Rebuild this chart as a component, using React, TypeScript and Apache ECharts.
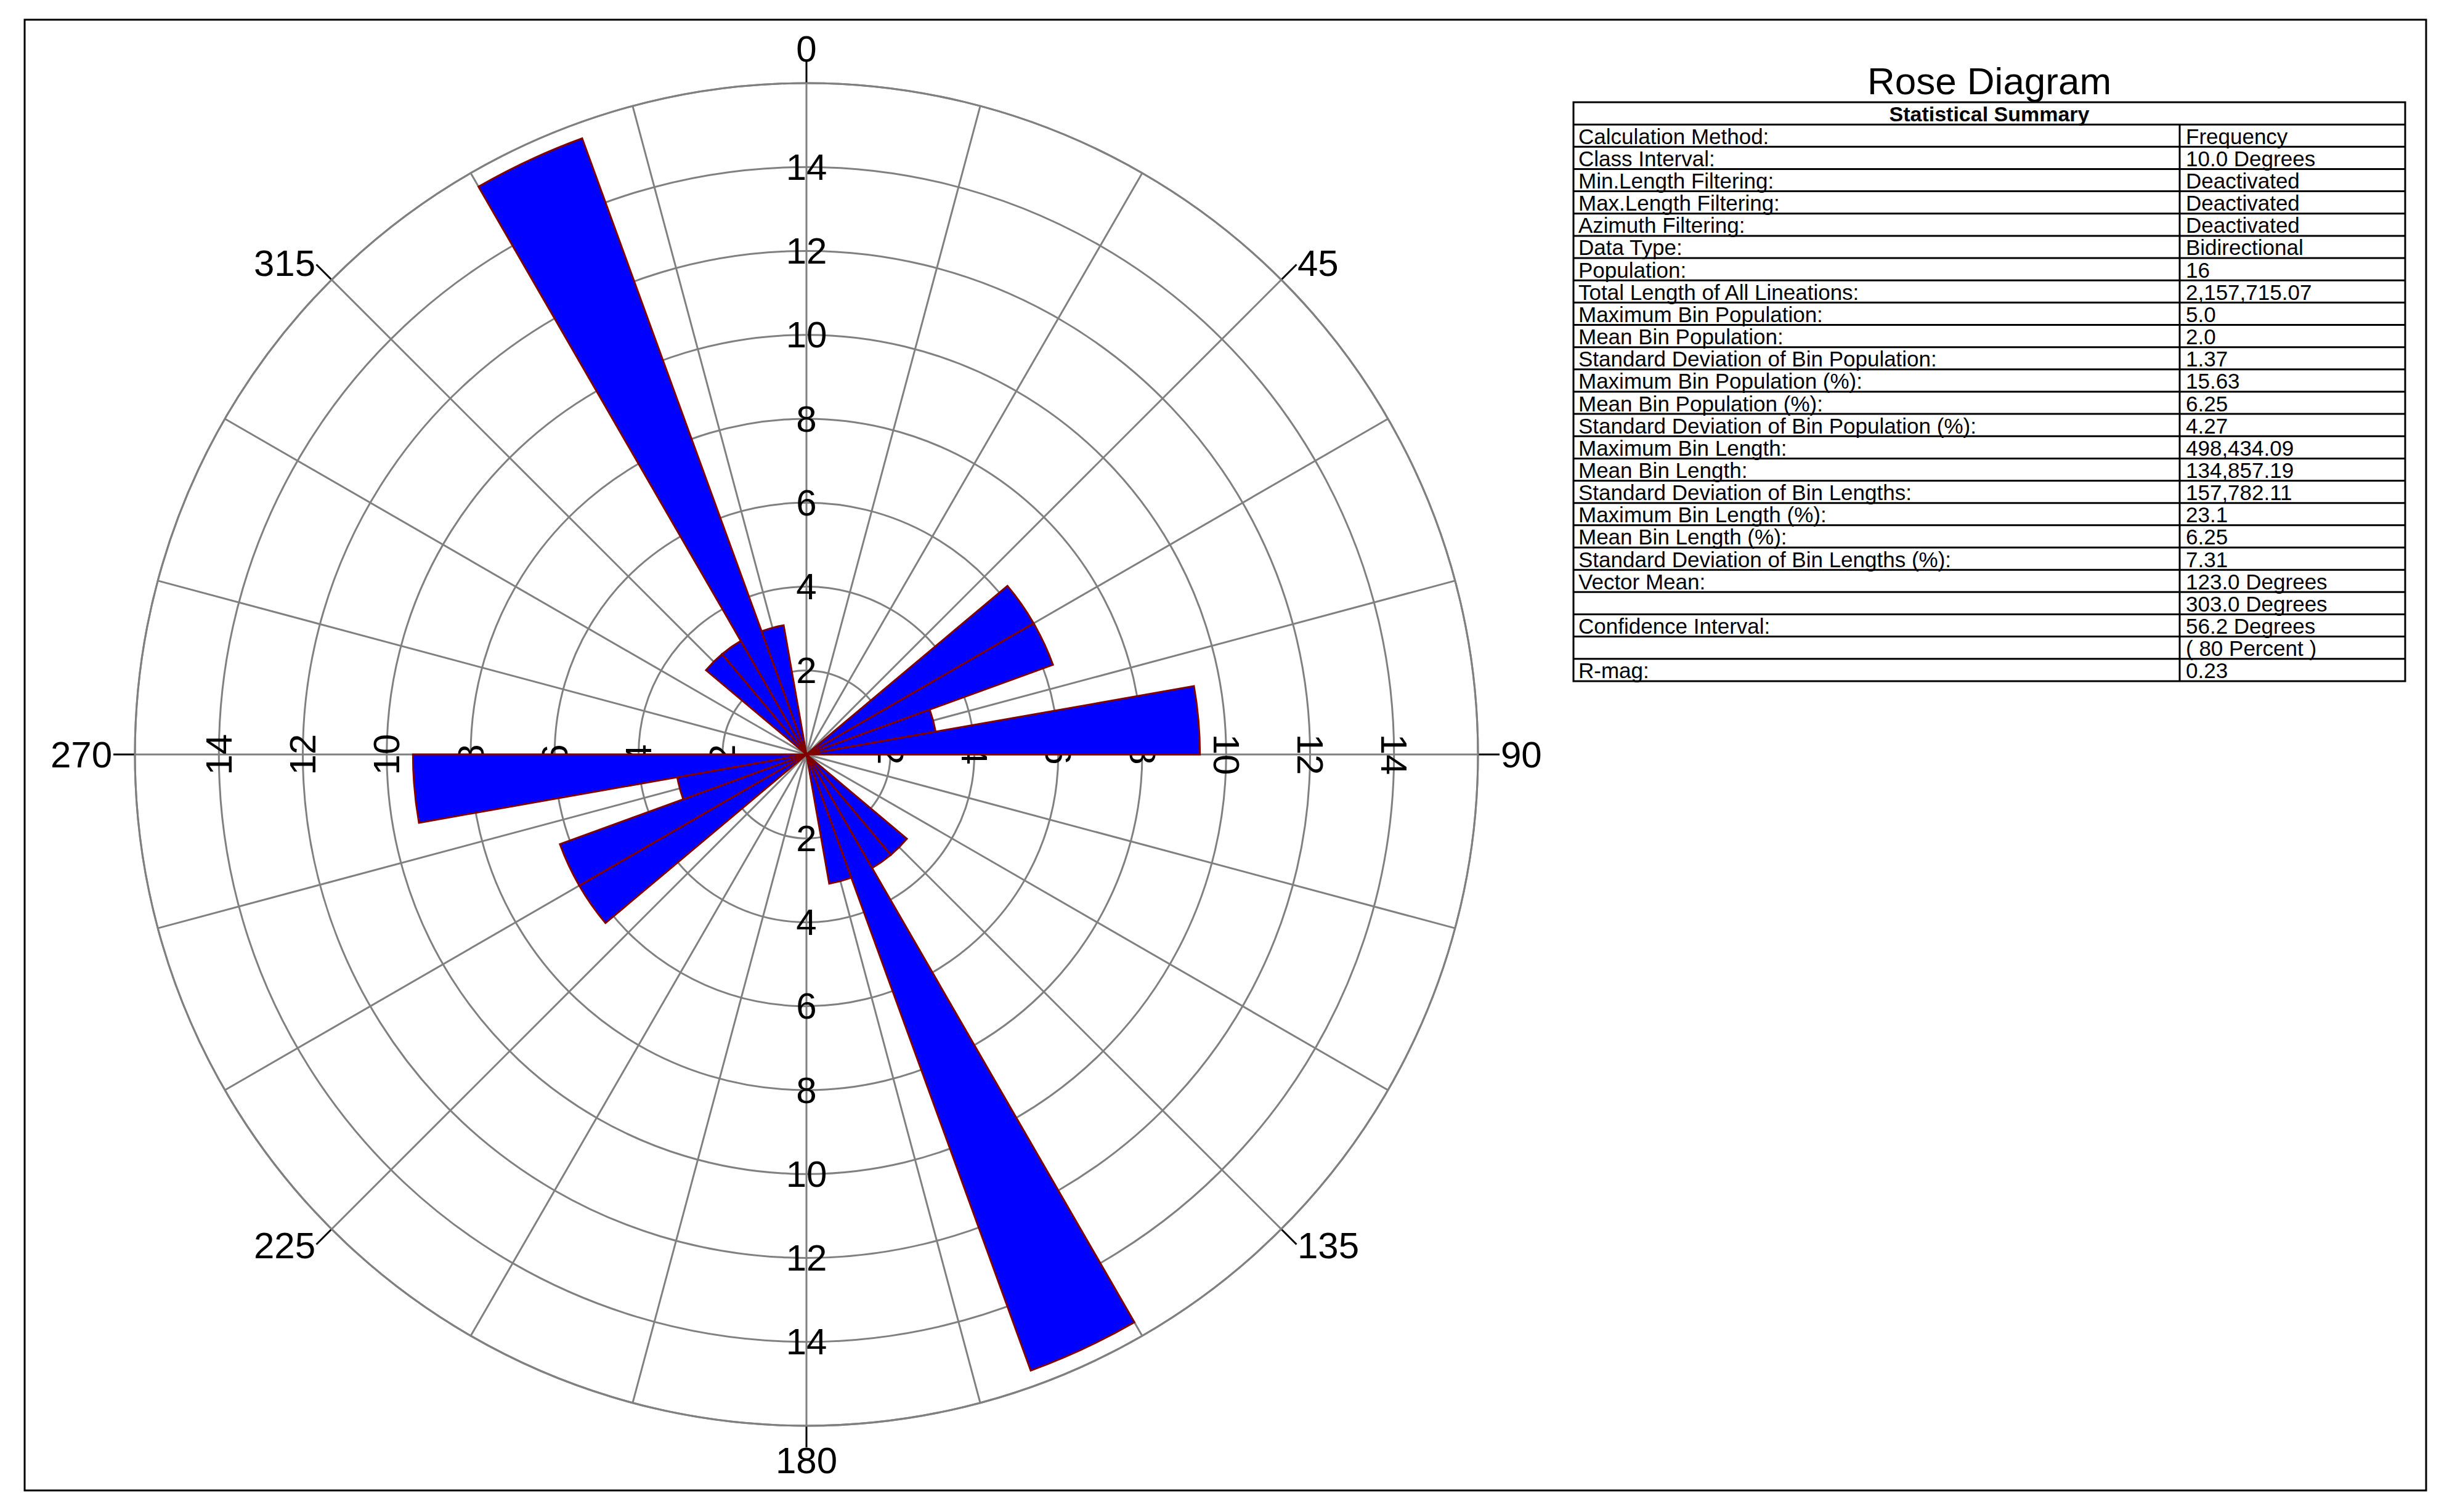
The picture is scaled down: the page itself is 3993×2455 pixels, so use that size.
import React, { useEffect, useRef } from "react";
import * as echarts from "echarts";

// ---- data ----
const BIN_CATEGORIES = [
  "0", "10", "20", "30", "40", "50", "60", "70", "80", "90", "100", "110",
  "120", "130", "140", "150", "160", "170", "180", "190", "200", "210", "220", "230",
  "240", "250", "260", "270", "280", "290", "300", "310", "320", "330", "340", "350",
];
// frequency (%) of each 10-degree bin (bidirectional)
const BIN_PERCENT = [
  null, null, null, null, null, 6.25, 6.25, 3.125, 9.375, null, null, null,
  null, 3.125, 3.125, 15.625, 3.125, null, null, null, null, null, null, 6.25,
  6.25, 3.125, 9.375, null, null, null, null, 3.125, 3.125, 15.625, 3.125, null,
];
const RADIAL_TICK_LABELS = [2, 4, 6, 8, 10, 12, 14];
const DIRECTION_SIDE_LABELS = [45, 90, 135, 225, 270, 315];
const DIRECTION_POLE_LABELS = [0, 180];

const TITLE = "Rose Diagram";
const TABLE_HEADER = "Statistical Summary";
const STAT_LABELS = [
  "Calculation Method:",
  "Class Interval:",
  "Min.Length Filtering:",
  "Max.Length Filtering:",
  "Azimuth Filtering:",
  "Data Type:",
  "Population:",
  "Total Length of All Lineations:",
  "Maximum Bin Population:",
  "Mean Bin Population:",
  "Standard Deviation of Bin Population:",
  "Maximum Bin Population (%):",
  "Mean Bin Population (%):",
  "Standard Deviation of Bin Population (%):",
  "Maximum Bin Length:",
  "Mean Bin Length:",
  "Standard Deviation of Bin Lengths:",
  "Maximum Bin Length (%):",
  "Mean Bin Length (%):",
  "Standard Deviation of Bin Lengths (%):",
  "Vector Mean:",
  "",
  "Confidence Interval:",
  "",
  "R-mag:",
];
const STAT_VALUES = [
  "Frequency",
  "10.0 Degrees",
  "Deactivated",
  "Deactivated",
  "Deactivated",
  "Bidirectional",
  "16",
  "2,157,715.07",
  "5.0",
  "2.0",
  "1.37",
  "15.63",
  "6.25",
  "4.27",
  "498,434.09",
  "134,857.19",
  "157,782.11",
  "23.1",
  "6.25",
  "7.31",
  "123.0 Degrees",
  "303.0 Degrees",
  "56.2 Degrees",
  "( 80 Percent )",
  "0.23",
];

// ---- layout / style ----
const W = 3993;
const H = 2455;
const CX = 1309;
const CY = 1225;
const R = 1090;
const GRID = "#808080";
const FONT = "'Liberation Sans', Arial, sans-serif";
const LABEL_SIZE = 60;

const T_LEFT = 2554;
const T_RIGHT = 3904;
const T_DIV = 3538;
const T_TOP = 166;
const ROW_H = 36.15;
const T_FONT = 35;

function radialFmt(v: number) {
  return RADIAL_TICK_LABELS.indexOf(v) >= 0 ? String(v) : "";
}

function radiusLabelAxis(polarIndex: number, rotate: number) {
  return {
    polarIndex,
    type: "value",
    min: 0,
    max: 16,
    interval: 2,
    axisLine: { show: false },
    axisTick: { show: false },
    splitLine: { show: polarIndex === 0, lineStyle: { color: GRID, width: 3 } },
    axisLabel: {
      show: true,
      margin: 0,
      rotate,
      align: "center",
      verticalAlign: "middle",
      fontSize: LABEL_SIZE,
      fontFamily: FONT,
      color: "#000",
      formatter: radialFmt,
    },
  };
}

function hiddenAngle(polarIndex: number, startAngle: number) {
  return {
    polarIndex,
    type: "value",
    min: 0,
    max: 360,
    interval: 45,
    startAngle,
    clockwise: true,
    show: false,
  };
}

function buildTable() {
  const els: any[] = [];
  const rows = STAT_LABELS.length + 1;
  const bottom = T_TOP + rows * ROW_H;
  const line = { stroke: "#000", lineWidth: 3 };
  els.push({
    type: "rect",
    shape: { x: T_LEFT, y: T_TOP, width: T_RIGHT - T_LEFT, height: bottom - T_TOP },
    style: { fill: "#fff", ...line },
    z: 10,
  });
  for (let i = 1; i < rows; i++) {
    const y = T_TOP + i * ROW_H;
    els.push({
      type: "line",
      shape: { x1: T_LEFT, y1: y, x2: T_RIGHT, y2: y },
      style: line,
      z: 11,
    });
  }
  els.push({
    type: "line",
    shape: { x1: T_DIV, y1: T_TOP + ROW_H, x2: T_DIV, y2: bottom },
    style: line,
    z: 11,
  });
  els.push({
    type: "text",
    x: (T_LEFT + T_RIGHT) / 2,
    y: T_TOP + ROW_H / 2 + 1,
    style: {
      text: TABLE_HEADER,
      fontSize: 34,
      fontWeight: "bold",
      fontFamily: FONT,
      fill: "#000",
      align: "center",
      verticalAlign: "middle",
    },
    z: 12,
  });
  STAT_LABELS.forEach((lab, i) => {
    const y = T_TOP + (i + 1) * ROW_H + ROW_H / 2 + 1;
    els.push({
      type: "text",
      x: T_LEFT + 8,
      y,
      style: {
        text: lab,
        fontSize: T_FONT,
        fontFamily: FONT,
        fill: "#000",
        align: "left",
        verticalAlign: "middle",
      },
      z: 12,
    });
    els.push({
      type: "text",
      x: T_DIV + 10,
      y,
      style: {
        text: STAT_VALUES[i],
        fontSize: T_FONT,
        fontFamily: FONT,
        fill: "#000",
        align: "left",
        verticalAlign: "middle",
      },
      z: 12,
    });
  });
  return els;
}

export default function App() {
  const ref = useRef<HTMLDivElement>(null);
  useEffect(() => {
    document.body.style.margin = "0";
    document.body.style.overflow = "hidden";
    if (!ref.current) return;
    const chart = echarts.init(ref.current, null, { renderer: "svg" });
    const polarCfg = { center: [CX, CY], radius: [0, R] };
    const option: any = {
      animation: false,
      backgroundColor: "#fff",
      textStyle: { fontFamily: FONT },
      polar: [0, 1, 2, 3, 4, 5, 6].map(() => ({ ...polarCfg })),
      angleAxis: [
        {
          polarIndex: 0,
          type: "value",
          min: 0,
          max: 360,
          interval: 15,
          startAngle: 90,
          clockwise: true,
          axisLine: { show: true, lineStyle: { color: GRID, width: 3 } },
          axisTick: { show: false },
          axisLabel: { show: false },
          splitLine: { show: true, lineStyle: { color: GRID, width: 3 } },
        },
        hiddenAngle(1, 0),
        hiddenAngle(2, 270),
        hiddenAngle(3, 180),
        {
          polarIndex: 4,
          type: "value",
          min: 0,
          max: 360,
          interval: 45,
          startAngle: 90,
          clockwise: true,
          axisLine: { show: false },
          splitLine: { show: false },
          axisTick: { show: true, length: 35, lineStyle: { color: "#000", width: 3 } },
          axisLabel: {
            show: true,
            margin: 37,
            fontSize: LABEL_SIZE,
            fontFamily: FONT,
            lineHeight: 1,
            color: "#000",
            formatter: (v: number) =>
              DIRECTION_SIDE_LABELS.indexOf(v) >= 0 ? String(v) : "",
          },
        },
        {
          polarIndex: 5,
          type: "value",
          min: 0,
          max: 360,
          interval: 45,
          startAngle: 90,
          clockwise: true,
          axisLine: { show: false },
          splitLine: { show: false },
          axisTick: { show: false },
          axisLabel: {
            show: true,
            margin: 34,
            fontSize: LABEL_SIZE,
            fontFamily: FONT,
            lineHeight: 44,
            color: "#000",
            formatter: (v: number) =>
              DIRECTION_POLE_LABELS.indexOf(v) >= 0 ? String(v) : "",
          },
        },
        {
          polarIndex: 6,
          type: "category",
          data: BIN_CATEGORIES,
          startAngle: 90,
          clockwise: true,
          boundaryGap: true,
          show: false,
        },
      ],
      radiusAxis: [
        radiusLabelAxis(0, 0),
        radiusLabelAxis(1, -90),
        radiusLabelAxis(2, 0),
        radiusLabelAxis(3, 90),
        { polarIndex: 4, type: "value", min: 0, max: 16, show: false },
        { polarIndex: 5, type: "value", min: 0, max: 16, show: false },
        { polarIndex: 6, type: "value", min: 0, max: 16, show: false },
      ],
      series: [
        {
          type: "bar",
          name: "Frequency",
          coordinateSystem: "polar",
          polarIndex: 6,
          data: BIN_PERCENT,
          barCategoryGap: "0%",
          barGap: "0%",
          z: 5,
          itemStyle: { color: "#0000FF", borderColor: "#800000", borderWidth: 3 },
        },
      ],
      graphic: [
        {
          type: "rect",
          shape: { x: 40, y: 32, width: 3898, height: 2388 },
          style: { fill: "none", stroke: "#000", lineWidth: 3 },
          z: 1,
        },
        {
          type: "text",
          x: (T_LEFT + T_RIGHT) / 2,
          y: 131,
          style: {
            text: TITLE,
            fontSize: 62,
            fontFamily: FONT,
            fill: "#000",
            align: "center",
            verticalAlign: "middle",
          },
          z: 12,
        },
        ...buildTable(),
      ],
    };
    chart.setOption(option);
    return () => chart.dispose();
  }, []);
  return <div ref={ref} style={{ width: W, height: H }} />;
}
